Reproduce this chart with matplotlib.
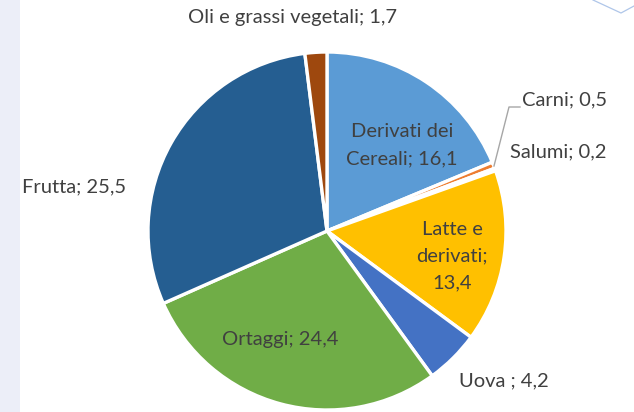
import matplotlib
matplotlib.use("Agg")
import matplotlib.pyplot as plt
from matplotlib.lines import Line2D
from matplotlib.patches import Rectangle

categories = ["Derivati dei Cereali", "Carni", "Salumi", "Latte e derivati",
              "Uova", "Ortaggi", "Frutta", "Oli e grassi vegetali"]
values = [16.1, 0.5, 0.2, 13.4, 4.2, 24.4, 25.5, 1.7]
label_texts = ["Derivati dei\nCereali; 16,1", "Carni; 0,5", "Salumi; 0,2",
               "Latte e\nderivati;\n13,4", "Uova ; 4,2", "Ortaggi; 24,4",
               "Frutta; 25,5", "Oli e grassi vegetali; 1,7"]
colors = ["#5B9BD5", "#ED7D31", "#A5A5A5", "#FFC000",
          "#4472C4", "#70AD47", "#255E91", "#9E480E"]

W, H = 634, 412
CX, CY, R = 327, 231, 179.0

fig = plt.figure(figsize=(W / 100, H / 100), dpi=100)
fig.patch.set_facecolor("white")
fig.patches.append(Rectangle((0, 0), 20 / W, 1, transform=fig.transFigure,
                             facecolor="#ECEEF8", edgecolor="none", zorder=0))
fig.lines.append(Line2D([593 / W, 621 / W, 634 / W], [1, 1 - 13 / H, 1 - 6 / H],
                        transform=fig.transFigure, color="#AFC6E9", lw=0.9))

ax = fig.add_axes([0, 0, 1, 1])
ax.pie(values, colors=colors, startangle=90, counterclock=False, radius=1.0,
       wedgeprops=dict(edgecolor="white", linewidth=2.4))
ax.set_aspect("auto")
ax.set_xlim(-CX / R, (W - CX) / R)
ax.set_ylim(-(H - CY) / R, CY / R)
ax.axis("off")
ax.patch.set_alpha(0)

def P(px, py):
    return ((px - CX) / R, (CY - py) / R)

txt = dict(color="#404040", fontsize=14.5, family=["Lato", "DejaVu Sans"])
# label positions in pixel coordinates (layout, not data)
label_pos = {
    0: (402, 145, "center", "center", 1.75),
    1: (522, 100, "left", "center", 1.2),
    2: (510, 152, "left", "center", 1.2),
    3: (452, 256, "center", "center", 1.7),
    4: (459, 381, "left", "center", 1.2),
    5: (280, 340, "center", "center", 1.2),
    6: (22, 187, "left", "center", 1.2),
    7: (292, 18, "center", "center", 1.2),
}
for i, (px, py, ha, va, ls) in label_pos.items():
    x, y = P(px, py)
    ax.text(x, y, label_texts[i], ha=ha, va=va, linespacing=ls, **txt)

# leader line for Carni
lx, ly = zip(P(494, 166), P(509, 107), P(520, 107))
ax.plot(lx, ly, color="#A6A6A6", lw=1.0)

fig.savefig("out.png", dpi=100)
